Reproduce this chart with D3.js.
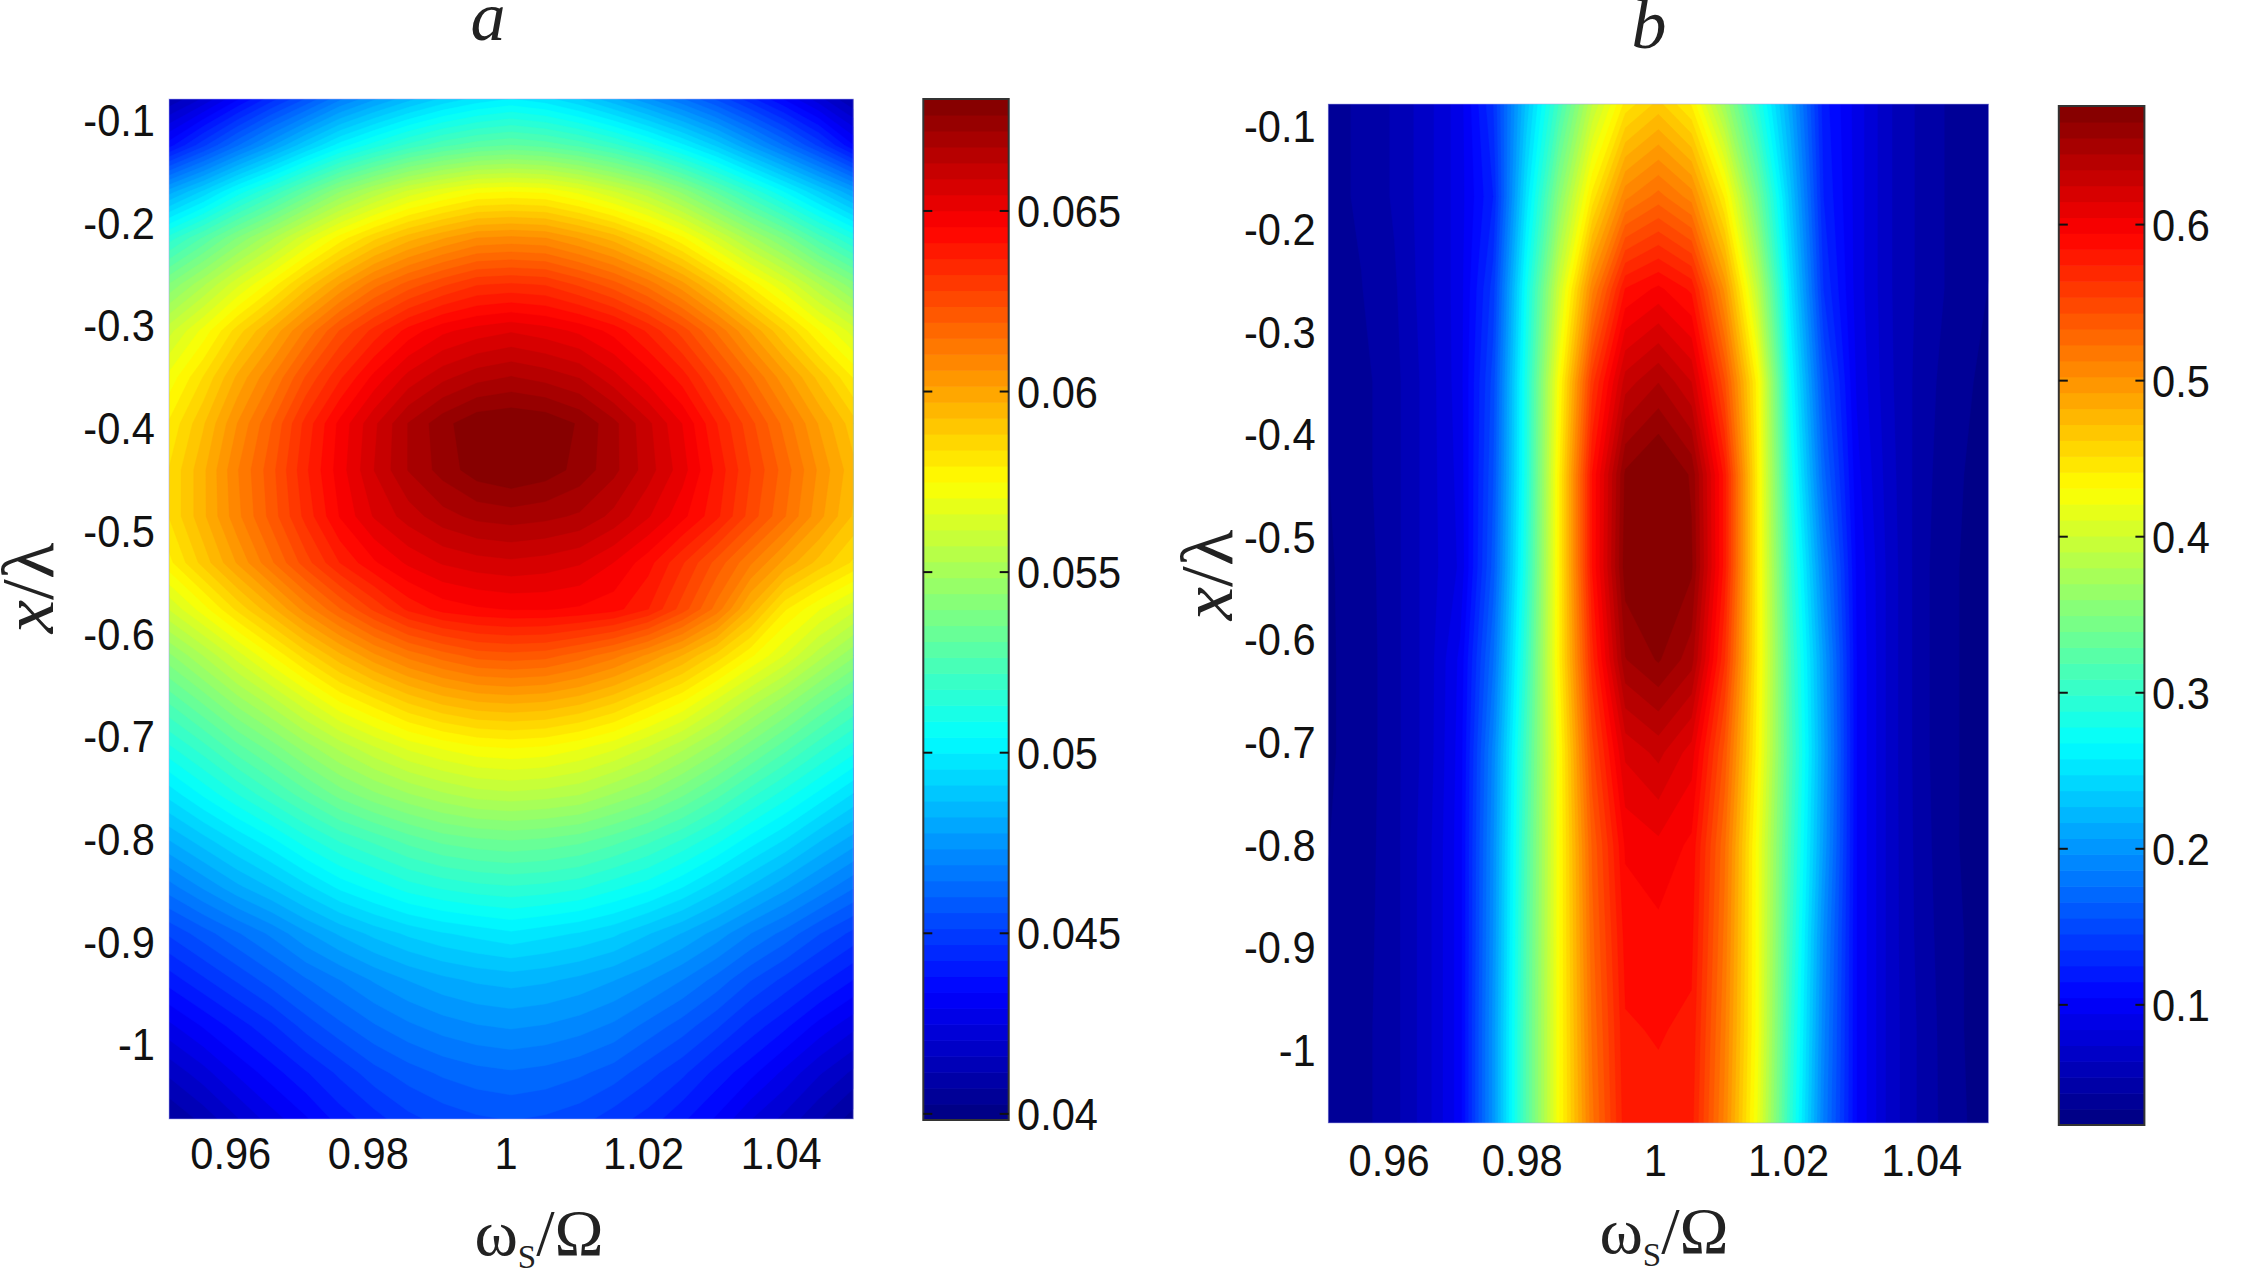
<!DOCTYPE html>
<html><head><meta charset="utf-8">
<script src="https://cdn.jsdelivr.net/npm/d3@7"></script>
<style>html,body{margin:0;padding:0;background:#fff}svg{display:block}</style>
</head><body><div id="c"></div>
<script>
// ---- tick labels ----
const omegaTicks = [0.96, 0.98, 1, 1.02, 1.04];
const lambdaTicks = [-0.1, -0.2, -0.3, -0.4, -0.5, -0.6, -0.7, -0.8, -0.9, -1];
const barTicksA = [0.04, 0.045, 0.05, 0.055, 0.06, 0.065];
const barTicksB = [0.1, 0.2, 0.3, 0.4, 0.5, 0.6];
// ---- panel a: values x 1e-4, rows top to bottom, columns left to right ----
const panelAValues = [
[412,421,433,445,456,468,477,485,492,497,500,497,491,483,474,465,455,444,433,422,411],
[436,450,464,477,490,502,511,519,525,529,531,529,525,519,511,501,490,477,464,450,434],
[480,492,506,518,531,544,554,563,569,574,575,574,569,562,554,543,530,517,504,491,478],
[515,527,540,552,565,577,587,595,601,606,607,606,601,595,586,576,563,550,538,524,512],
[540,552,565,577,590,602,613,621,627,632,633,632,627,621,613,603,591,578,566,553,541],
[560,572,586,598,611,624,634,643,649,652,654,652,649,644,636,626,614,601,588,575,564],
[572,584,598,610,624,636,647,656,662,666,668,666,663,656,648,639,627,615,603,591,579],
[580,592,606,619,634,647,658,668,675,680,681,680,676,669,660,650,637,625,613,601,590],
[584,596,610,622,636,648,659,668,674,679,681,679,675,669,661,652,640,628,617,605,594],
[584,596,609,621,634,646,655,661,666,669,670,669,667,662,655,647,638,626,615,603,592],
[578,590,602,614,626,637,645,651,655,657,658,657,655,650,643,633,622,611,600,591,583],
[562,573,585,596,608,619,629,638,643,645,646,646,645,643,637,626,613,596,580,571,563],
[543,553,564,575,586,596,605,612,617,621,622,621,617,612,605,597,587,576,566,555,545],
[527,536,546,555,565,575,582,589,594,597,598,597,594,589,582,575,565,555,546,536,527],
[512,520,529,537,546,554,561,567,571,574,575,574,571,567,561,554,546,537,528,519,511],
[497,505,513,521,529,537,543,548,552,555,556,555,553,548,543,536,528,519,511,503,495],
[482,489,496,503,511,518,523,528,532,534,535,534,532,528,523,517,510,502,495,487,480],
[467,474,481,487,494,501,506,511,514,516,517,516,514,510,506,500,493,486,479,472,465],
[452,458,464,470,477,483,488,492,495,497,499,497,495,492,487,482,476,469,463,456,450],
[440,446,452,458,464,469,474,478,481,483,484,483,481,478,474,469,463,456,450,444,438],
[428,434,440,446,453,459,464,468,471,473,474,473,471,468,463,458,452,445,439,432,426],
[417,423,430,436,442,448,454,458,461,463,464,463,461,458,453,448,441,435,428,421,415],
[407,413,420,427,433,440,445,450,453,455,456,455,453,449,445,439,433,425,419,412,405]
];
// ---- panel b: rows top to bottom, columns left to right ----
const panelBValues = [
[.04,.045,.055,.07,.09,.135,.23,.31,.39,.445,.465,.44,.37,.29,.21,.12,.09,.065,.05,.04,.035],
[.04,.045,.055,.07,.09,.125,.25,.355,.445,.51,.527,.508,.44,.34,.23,.125,.09,.065,.05,.04,.035],
[.038,.043,.052,.07,.09,.14,.275,.40,.51,.585,.597,.582,.50,.39,.25,.135,.09,.065,.05,.04,.033],
[.035,.04,.05,.068,.09,.15,.285,.43,.56,.63,.645,.625,.545,.435,.27,.155,.093,.066,.048,.037,.03],
[.033,.04,.05,.068,.088,.155,.285,.44,.585,.668,.682,.664,.58,.44,.285,.17,.098,.068,.047,.035,.028],
[.032,.038,.05,.068,.086,.16,.29,.44,.585,.672,.682,.668,.58,.44,.30,.19,.103,.07,.046,.034,.027],
[.032,.037,.05,.068,.097,.175,.30,.44,.57,.655,.667,.65,.565,.44,.31,.205,.105,.07,.046,.034,.027],
[.032,.037,.05,.068,.099,.19,.31,.43,.55,.617,.628,.61,.54,.435,.315,.21,.105,.07,.046,.034,.027],
[.033,.038,.05,.07,.10,.195,.315,.43,.535,.596,.602,.592,.525,.425,.31,.205,.105,.07,.047,.034,.027],
[.034,.039,.05,.07,.10,.197,.318,.43,.53,.588,.591,.587,.52,.425,.305,.195,.105,.07,.048,.035,.028],
[.035,.04,.05,.07,.10,.20,.32,.43,.525,.583,.585,.582,.515,.425,.30,.19,.105,.07,.05,.035,.028],
[.036,.04,.05,.07,.10,.20,.32,.43,.52,.58,.581,.578,.51,.42,.295,.185,.105,.07,.05,.036,.028]
];

const W = 2258, H = 1270, LEVELS = 64;
const svg = d3.select('#c').append('svg').attr('width', W).attr('height', H).attr('viewBox', `0 0 ${W} ${H}`);
svg.append('rect').attr('width', W).attr('height', H).attr('fill', '#fff');

const jet = t => {
  const c = v => Math.round(255 * Math.max(0, Math.min(1, v)));
  return d3.rgb(c(1.5 - Math.abs(4*t - 3)), c(1.5 - Math.abs(4*t - 2)), c(1.5 - Math.abs(4*t - 1))).formatRgb();
};
const sans = '"Liberation Sans", Arial, sans-serif', serif = '"Liberation Serif", "Times New Roman", serif';
const TICK_FONT = 45, SQUEEZE = 0.925;
const tickStr = d => String(d);

function panel(o) {
  const g = svg.append('g');
  const flat = o.values.flat().map(v => v * o.unit);
  const nCols = o.values[0].length, nRows = o.values.length;
  const x = d3.scaleLinear().domain(o.xDomain).range([o.x0, o.x1]);
  const y = d3.scaleLinear().domain(o.yDomain).range([o.y0, o.y1]);
  const c = d3.scaleLinear().domain(o.cDomain).range([0, 1]);
  const gridX = d3.scaleLinear().domain([0.5, nCols - 0.5]).range(o.xDomain).clamp(true);
  const gridY = d3.scaleLinear().domain([0.5, nRows - 0.5]).range(o.yDomain).clamp(true);
  const thresholds = d3.range(LEVELS).map(k => c.invert(k / LEVELS));
  const path = d3.geoPath(d3.geoTransform({ point(a, b) { this.stream.point(x(gridX(a)), y(gridY(b))); } }));
  const clipId = 'clip' + o.name;
  g.append('clipPath').attr('id', clipId).append('rect')
    .attr('x', o.x0).attr('y', o.y0).attr('width', o.x1 - o.x0).attr('height', o.y1 - o.y0);
  const field = g.append('g').attr('clip-path', `url(#${clipId})`);
  field.append('rect').attr('x', o.x0).attr('y', o.y0).attr('width', o.x1 - o.x0).attr('height', o.y1 - o.y0).attr('fill', jet(0.5 / LEVELS));
  const contours = d3.contours().size([nCols, nRows]).smooth(true).thresholds(thresholds)(flat);
  field.selectAll('path').data(contours).join('path')
    .attr('d', path)
    .attr('fill', d => jet((Math.round(c(d.value) * LEVELS) + 0.5) / LEVELS))
    .attr('stroke', d => jet((Math.round(c(d.value) * LEVELS) + 0.5) / LEVELS))
    .attr('stroke-width', 0.4);
  g.append('rect').attr('x', o.x0).attr('y', o.y0).attr('width', o.x1 - o.x0).attr('height', o.y1 - o.y0)
    .attr('fill', 'none').attr('stroke', 'rgba(170,170,235,0.55)').attr('stroke-width', 1);

  // axes
  const ax = g.append('g').attr('transform', `translate(0,${o.xLabelY})`)
    .call(d3.axisBottom(x).tickValues(omegaTicks).tickSize(0).tickPadding(0).tickFormat(tickStr));
  ax.select('.domain').remove();
  ax.selectAll('text').attr('y', 0).attr('dy', '0.36em').attr('font-family', sans).attr('font-size', TICK_FONT).attr('fill', '#111')
    .attr('transform', `scale(${SQUEEZE},1)`);
  const ay = g.append('g').attr('transform', `translate(${o.yLabelX},0)`)
    .call(d3.axisLeft(y).tickValues(lambdaTicks).tickSize(0).tickPadding(0).tickFormat(tickStr));
  ay.select('.domain').remove();
  ay.selectAll('text').attr('x', 0).attr('dy', '0.36em').attr('font-family', sans).attr('font-size', TICK_FONT).attr('fill', '#111').attr('text-anchor', 'end')
    .attr('transform', `scale(${SQUEEZE},1)`);

  // colour bar
  const barY = d3.scaleLinear().domain(o.cDomain).range([o.barY1, o.barY0]);
  const bands = d3.range(LEVELS);
  g.append('g').selectAll('rect').data(bands).join('rect')
    .attr('x', o.barX0).attr('width', o.barX1 - o.barX0)
    .attr('y', k => barY(c.invert((k + 1) / LEVELS)))
    .attr('height', k => barY(c.invert(k / LEVELS)) - barY(c.invert((k + 1) / LEVELS)) + 0.6)
    .attr('fill', k => jet((k + 0.5) / LEVELS));
  g.append('rect').attr('x', o.barX0).attr('y', o.barY0).attr('width', o.barX1 - o.barX0).attr('height', o.barY1 - o.barY0)
    .attr('fill', 'none').attr('stroke', '#333').attr('stroke-width', 2);
  const bt = g.append('g').selectAll('g').data(o.barTicks).join('g').attr('transform', d => `translate(0,${barY(d)})`);
  bt.append('line').attr('x1', o.barX0).attr('x2', o.barX0 + 9).attr('stroke', '#111').attr('stroke-width', 2);
  bt.append('line').attr('x1', o.barX1 - 9).attr('x2', o.barX1).attr('stroke', '#111').attr('stroke-width', 2);
  bt.append('text').attr('transform', `translate(${o.barLabelX},0) scale(${SQUEEZE},1)`).attr('dy', '0.36em')
    .attr('font-family', sans).attr('font-size', TICK_FONT).attr('fill', '#111').text(tickStr);

  // title
  g.append('text').attr('x', o.titleX).attr('y', o.titleY).attr('text-anchor', 'middle')
    .attr('font-family', serif).attr('font-style', 'italic').attr('font-size', 70).attr('fill', '#222').text(o.title);
  // x label
  const xl = g.append('text').attr('x', o.xTitleX).attr('y', o.xTitleY).attr('text-anchor', 'middle')
    .attr('font-family', serif).attr('font-size', 66).attr('fill', '#222');
  xl.append('tspan').text('ω');
  xl.append('tspan').attr('font-size', 33).attr('dy', 13).text('S');
  xl.append('tspan').attr('dy', -13).text('/Ω');
  // y label
  const yl = g.append('text').attr('transform', `translate(${o.yTitleX},${o.yTitleY}) rotate(-90)`).attr('text-anchor', 'middle')
    .attr('font-family', serif).attr('font-size', 75).attr('fill', '#222');
  yl.append('tspan').attr('font-style', 'italic').text('x');
  yl.append('tspan').text('/λ');
}

panel({ name: 'A', title: 'a', values: panelAValues, unit: 1e-4,
  x0: 169, x1: 853.3, y0: 99, y1: 1119, xDomain: [0.9511, 1.05055], yDomain: [-0.0804, -1.0732],
  cDomain: [0.03983, 0.0681], barX0: 923.3, barX1: 1008.7, barY0: 99, barY1: 1120, barTicks: barTicksA, barLabelX: 1017,
  xLabelY: 1153, yLabelX: 155, titleX: 488, titleY: 40, xTitleX: 539, xTitleY: 1255, yTitleX: 53, yTitleY: 588 });
panel({ name: 'B', title: 'b', values: panelBValues, unit: 1,
  x0: 1328.3, x1: 1988.5, y0: 104, y1: 1123, xDomain: [0.95095, 1.0501], yDomain: [-0.0788, -1.0721],
  cDomain: [0.023, 0.676], barX0: 2058.8, barX1: 2144.4, barY0: 106, barY1: 1125, barTicks: barTicksB, barLabelX: 2152,
  xLabelY: 1160, yLabelX: 1315.7, titleX: 1649, titleY: 48, xTitleX: 1664, xTitleY: 1253, yTitleX: 1231.7, yTitleY: 575 });
</script></body></html>
